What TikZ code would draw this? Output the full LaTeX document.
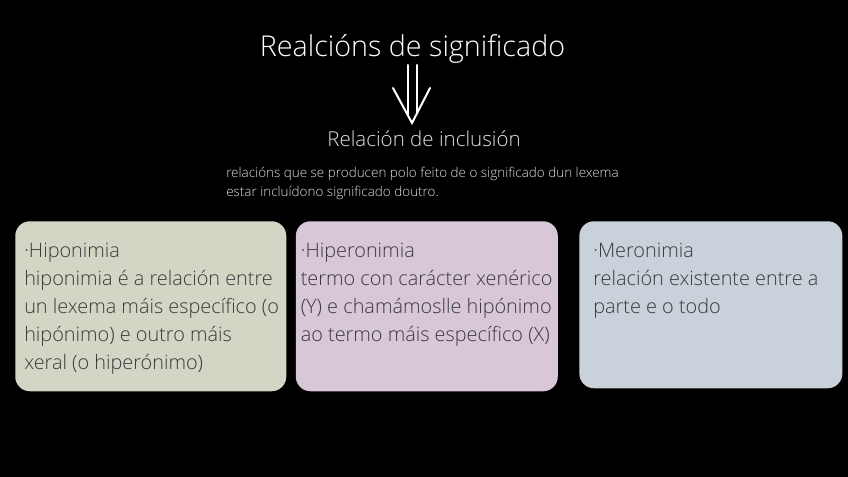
\documentclass[tikz,border=0pt]{standalone}
\usepackage{fontspec}
\setmainfont{Open Sans Light}
\definecolor{semGreen}{RGB}{211,214,197}
\definecolor{semPink}{RGB}{216,199,214}
\definecolor{semBlue}{RGB}{201,209,218}
\definecolor{semText}{RGB}{58,58,58}
\definecolor{semGrey}{RGB}{225,225,225}
\usetikzlibrary{positioning,calc}

\begin{document}
\begin{tikzpicture}[
  x=0.75pt, y=-0.75pt,
  card/.style={rounded corners=11pt, anchor=north west, minimum height=127.5pt,
               inner sep=0pt},
  cardtext/.style={anchor=north west, inner sep=0pt, align=left, text=semText,
               font=\fontsize{14.9}{21}\selectfont},
  arr/.style={white, line width=1.5pt, line cap=round, line join=miter}
]
  % background
  \fill[black] (0,0) rectangle (848,477);
  \useasboundingbox (0,0) rectangle (848,477);

  \node[anchor=base, text=white, inner sep=0pt, font=\fontsize{21.5}{26}\selectfont]
    (title) at (412.5,57) {Realcións de significado};
  \node[anchor=base, text=semGrey, inner sep=0pt, font=\fontsize{15.4}{18}\selectfont]
    (incl) at (424,147) {Relación de inclusión};
  \node[anchor=north west, text=semGrey, inner sep=0pt, align=left,
        font=\fontsize{10.1}{14.25}\selectfont]
    (desc) at (226,167) {relacións que se producen polo feito de o significado dun lexema\\
                         estar incluídono significado doutro.};

  % double arrow
  \coordinate (tip) at (412,123);
  \draw[arr] ($(tip)+(-4,-58)$) -- ($(tip)+(-4,-8)$);
  \draw[arr] ($(tip)+(5,-58)$)  -- ($(tip)+(5,-10)$);
  \draw[arr] ($(tip)+(-19,-35)$) -- (tip) -- ($(tip)+(18,-35)$);

  % boxes
  \node[card, fill=semGreen, minimum width=203.25pt] (hipo) at (15,221) {};
  \node[card, fill=semPink, minimum width=196.5pt, right=6.75pt of hipo.north east,
        anchor=north west] (hiper) {};
  \node[card, fill=semBlue, minimum width=197.25pt, minimum height=125.25pt,
        right=15.75pt of hiper.north east, anchor=north west] (mero) {};

  \node[cardtext] (hipotxt) at ($(hipo.north west)+(9,21.5)$)
    {·Hiponimia\\hiponimia é a relación entre\\un lexema máis específico (o\\hipónimo) e outro máis\\xeral (o hiperónimo)};
  \node[cardtext] (hipertxt) at ($(hiper.north west)+(5,21.5)$)
    {·Hiperonimia\\termo con carácter xenérico\\(Y) e chamámoslle hipónimo\\ao termo máis específico (X)};
  \node[cardtext] (merotxt) at ($(mero.north west)+(14,21.5)$)
    {·Meronimia\\relación existente entre a\\parte e o todo};
\end{tikzpicture}
\end{document}
